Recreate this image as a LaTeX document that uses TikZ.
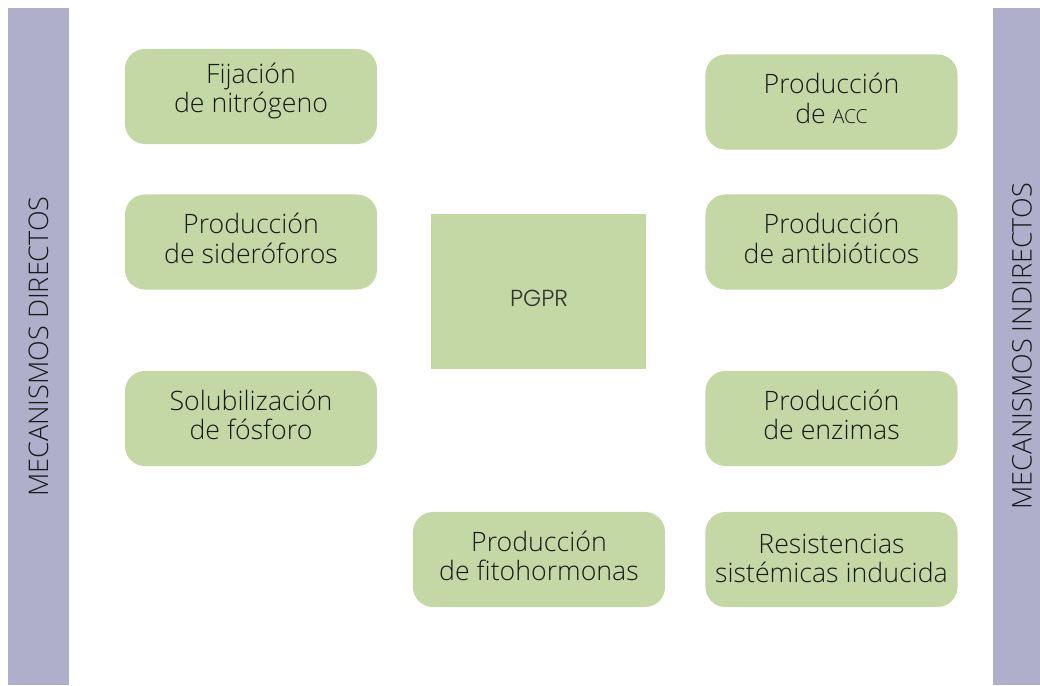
\documentclass[tikz,border=0pt]{standalone}
\usepackage{fontspec}
\setmainfont{Open Sans}[UprightFont={* Light}]
\newfontfamily\pgprfont{Poppins}[UprightFont={* Light}]
\usepackage{xcolor}
\usepackage{tikz}
\usetikzlibrary{shapes}
\definecolor{boxgreen}{HTML}{C4D8A5}
\definecolor{barpurple}{HTML}{AFAFCB}
\newcommand{\smallcaps}[1]{{\fontsize{13.8}{13.8}\selectfont #1}}

\begin{document}
\begin{tikzpicture}[x=0.025cm, y=-0.025cm,
  mech/.style={fill=boxgreen, rounded corners=0.5cm, minimum width=6.3cm, minimum height=2.375cm, align=center, font=\fontsize{19}{21}\selectfont, inner sep=0pt, text height=34.6pt, text depth=4.3pt, text=black!90},
  side/.style={fill=barpurple, minimum width=1.525cm, minimum height=16.925cm, inner sep=0pt, font=\fontsize{19.2}{21}\selectfont, text=black!90}]
\useasboundingbox (0,0) rectangle (1040,685);
\node[side] (dir) at (38.5,346.5) {\rotatebox{90}{MECANISMOS DIRECTOS}};
\node[side, minimum width=1.45cm] (indir) at (1022,346.5) {\rotatebox{90}{MECANISMOS INDIRECTOS}};
\node[mech, text depth=11.4pt] (fija) at (251,96.5) {Fijación\\de nitrógeno};
\node[mech] (sider) at (251,242) {Producción\\de sideróforos};
\node[mech] (solub) at (251,418.5) {Solubilización\\de fósforo};
\node[mech] (fito) at (539,559.5) {Producción\\de fitohormonas};
\node[fill=boxgreen, minimum width=5.375cm, minimum height=3.875cm] (pgpr) at (538.5,291.5) {};
\node[font=\pgprfont\fontsize{16.5}{18}\selectfont, text=black!80] (pgprlabel) at (539,298) {PGPR};
\node[mech] (acc) at (831.5,102) {Producción\\de \smallcaps{ACC}};
\node[mech] (antib) at (831.5,242) {Producción\\de antibióticos};
\node[mech] (enzim) at (831.5,418.5) {Producción\\de enzimas};
\node[mech, text depth=1.4pt] (resis) at (831.5,559.5) {Resistencias\\sistémicas inducida};
\end{tikzpicture}
\end{document}
